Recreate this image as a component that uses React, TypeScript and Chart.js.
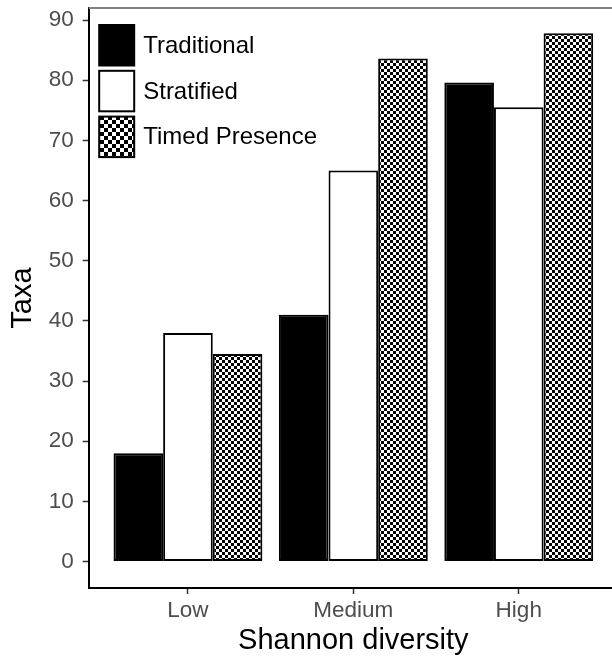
import React, { useEffect, useRef } from 'react';
import { Chart, registerables } from 'chart.js';

Chart.register(...registerables);

const CATEGORIES = ['Low', 'Medium', 'High'];
const SERIES_NAMES = ['Traditional', 'Stratified', 'Timed Presence'];
const TRADITIONAL = [18, 41, 79.6];
const STRATIFIED = [38, 65, 75.5];
const TIMED_PRESENCE = [34.5, 83.6, 87.8];
const Y_TICKS = [0, 10, 20, 30, 40, 50, 60, 70, 80, 90];
const X_TITLE = 'Shannon diversity';
const Y_TITLE = 'Taxa';

const FAMILY = '"Liberation Sans", Arial, Helvetica, sans-serif';

function checker(cell: number): CanvasPattern {
  const c = document.createElement('canvas');
  c.width = cell * 2;
  c.height = cell * 2;
  const g = c.getContext('2d')!;
  g.fillStyle = '#ffffff';
  g.fillRect(0, 0, cell * 2, cell * 2);
  g.fillStyle = '#000000';
  g.fillRect(0, 0, cell, cell);
  g.fillRect(cell, cell, cell, cell);
  return g.createPattern(c, 'repeat')!;
}

export default function App() {
  const ref = useRef<HTMLCanvasElement | null>(null);

  useEffect(() => {
    const canvas = ref.current;
    if (!canvas) return;
    const barPattern = checker(3);
    const legendPattern = checker(4);
    const seriesValues = [TRADITIONAL, STRATIFIED, TIMED_PRESENCE];
    const fills: any[] = ['#000000', '#ffffff', barPattern];
    const legendFills: any[] = ['#000000', '#ffffff', legendPattern];

    const decor = {
      id: 'decor',
      afterDraw(chart: any) {
        const { ctx, chartArea } = chart;
        ctx.save();
        // top panel line
        ctx.strokeStyle = '#808080';
        ctx.lineWidth = 2;
        ctx.beginPath();
        ctx.moveTo(chartArea.left, chartArea.top);
        ctx.lineTo(chart.width, chartArea.top);
        ctx.stroke();
        // legend
        const kx = chartArea.left + 9.5;
        const ky = chartArea.top + 16;
        const kw = 37;
        const kh = 42.5;
        const step = 45.8;
        ctx.font = `24px ${FAMILY}`;
        ctx.textBaseline = 'middle';
        ctx.textAlign = 'left';
        SERIES_NAMES.forEach((name, i) => {
          const y = ky + i * step;
          ctx.fillStyle = '#000000';
          ctx.fillRect(kx, y, kw, kh);
          ctx.fillStyle = legendFills[i];
          ctx.fillRect(kx + 2, y + 2, kw - 4, kh - 4);
          ctx.fillStyle = '#000000';
          ctx.fillText(name, kx + 45, y + kh / 2 + 1);
        });
        ctx.restore();
      },
    };

    const chart = new Chart(canvas, {
      type: 'bar',
      data: {
        datasets: SERIES_NAMES.map((name, i) => ({
          label: name,
          data: seriesValues[i].map((v, j) => ({ x: j + 1, y: v })),
          backgroundColor: fills[i],
          borderColor: '#000000',
          borderWidth: 2,
          borderSkipped: false,
          categoryPercentage: 0.9,
          barPercentage: 1,
        })) as any,
      },
      options: {
        animation: false,
        responsive: false,
        maintainAspectRatio: false,
        devicePixelRatio: 1,
        layout: { padding: { left: 0, right: 22, top: 8, bottom: 0 } },
        plugins: {
          legend: { display: false },
          tooltip: { enabled: false },
        },
        scales: {
          x: {
            type: 'linear',
            min: 0.4,
            max: 3.6,
            offset: false,
            grid: {
              display: true,
              drawOnChartArea: false,
              drawTicks: true,
              tickLength: 6,
              tickWidth: 1.5,
              tickColor: '#333333',
              offset: false,
            },
            border: { display: true, color: '#000000', width: 2 },
            ticks: {
              font: { family: FAMILY, size: 22.5 },
              color: '#4d4d4d',
              padding: 3,
              autoSkip: false,
              maxRotation: 0,
              callback: (v: any) => CATEGORIES[Number(v) - 1] ?? '',
            },
            afterBuildTicks: (s: any) => {
              s.ticks = CATEGORIES.map((_, i) => ({ value: i + 1 }));
            },
            afterFit: (s: any) => {
              s.height = 71;
              s.paddingLeft = 0;
              s.paddingRight = 0;
            },
            title: {
              display: true,
              text: X_TITLE,
              color: '#000000',
              font: { family: FAMILY, size: 29 },
              padding: { top: 0, bottom: 1 },
            },
          },
          y: {
            type: 'linear',
            min: -4.4,
            max: 92,
            grid: {
              display: true,
              drawOnChartArea: false,
              drawTicks: true,
              tickLength: 6,
              tickWidth: 1.5,
              tickColor: '#333333',
            },
            border: { display: true, color: '#000000', width: 2 },
            ticks: {
              font: { family: FAMILY, size: 22.5 },
              color: '#4d4d4d',
              padding: 9,
              autoSkip: false,
            },
            afterBuildTicks: (s: any) => {
              s.ticks = Y_TICKS.map((v) => ({ value: v }));
            },
            afterFit: (s: any) => {
              s.width = 88.7;
              s.paddingTop = 0;
              s.paddingBottom = 0;
            },
            title: {
              display: true,
              text: Y_TITLE,
              color: '#000000',
              font: { family: FAMILY, size: 29 },
              padding: { top: 6, bottom: 0 },
            },
          },
        },
      } as any,
      plugins: [decor],
    });

    return () => chart.destroy();
  }, []);

  return (
    <div
      style={{
        position: 'fixed',
        left: 0,
        top: 0,
        width: 612,
        height: 659,
        overflow: 'hidden',
        background: '#ffffff',
      }}
    >
      <canvas ref={ref} width={640} height={659} style={{ display: 'block', width: 640, height: 659 }} />
    </div>
  );
}
